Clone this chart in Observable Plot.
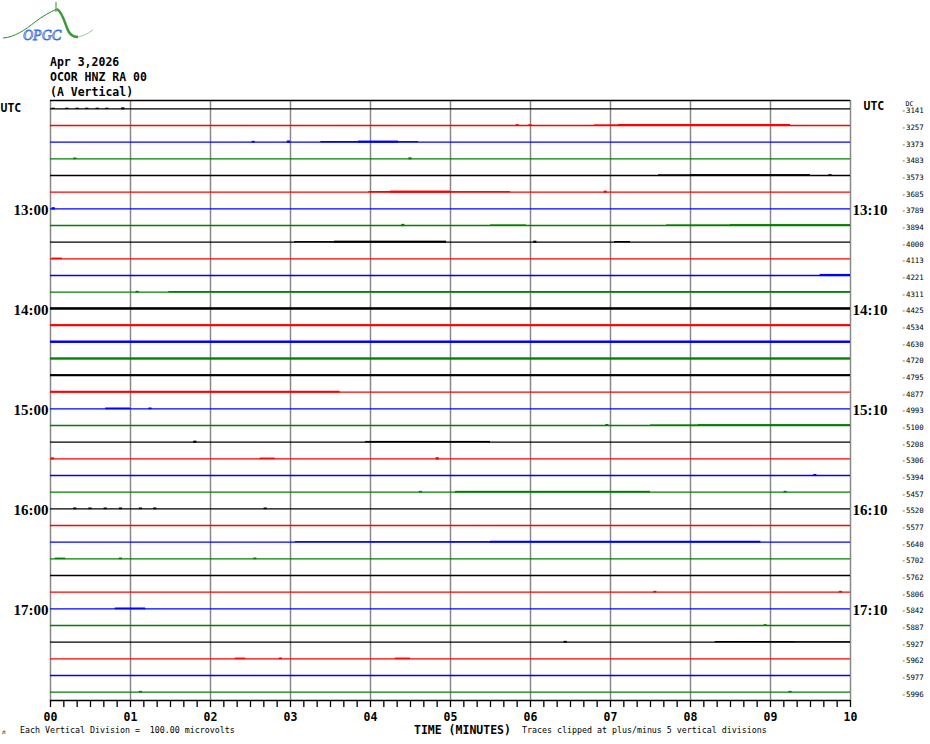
<!DOCTYPE html>
<html><head><meta charset="utf-8">
<script src="https://cdn.jsdelivr.net/npm/d3@7"></script>
<script src="https://cdn.jsdelivr.net/npm/@observablehq/plot@0.6"></script>
<style>
body{margin:0;background:#fff;}
#chart{position:relative;width:930px;height:744px;}
</style></head><body><div id="chart"></div>
<script>
// ---- data ----
const headerLines = ["Apr 3,2026", "OCOR HNZ RA 00", "(A Vertical)"];
const traceColors = ["#000000", "#ff0000", "#0000ff", "#008000"];
const dcValues = [-3141, -3257, -3373, -3483, -3573, -3685, -3789, -3894, -4000, -4113, -4221, -4311,
  -4425, -4534, -4630, -4720, -4795, -4877, -4993, -5100, -5208, -5306, -5394, -5457,
  -5520, -5577, -5640, -5702, -5762, -5806, -5842, -5887, -5927, -5962, -5977, -5996];
const hourRows = [6, 12, 18, 24, 30];
const leftHourLabels = ["13:00", "14:00", "15:00", "16:00", "17:00"];
const rightHourLabels = ["13:10", "14:10", "15:10", "16:10", "17:10"];
const minuteTicks = [0, 1, 2, 3, 4, 5, 6, 7, 8, 9, 10];
const minuteLabels = ["00", "01", "02", "03", "04", "05", "06", "07", "08", "09", "10"];
// noisy stretches: [row, start minute, end minute, half-amplitude in row units]
const bursts = [
  [1, 6.8, 7.1, 0.035], [1, 7.1, 9.25, 0.06],
  [2, 3.38, 3.85, 0.04], [2, 3.85, 4.35, 0.065], [2, 4.35, 4.6, 0.035],
  [4, 7.6, 8.0, 0.04], [4, 8.0, 9.5, 0.055],
  [5, 3.98, 4.25, 0.04], [5, 4.25, 5.0, 0.065], [5, 5.0, 5.75, 0.035],
  [7, 5.5, 5.95, 0.035], [7, 7.7, 8.5, 0.035], [7, 8.5, 10, 0.055],
  [8, 3.05, 3.55, 0.035], [8, 3.55, 4.95, 0.06], [8, 7.05, 7.25, 0.04],
  [9, 0.02, 0.15, 0.045],
  [10, 9.62, 10, 0.065],
  [11, 1.48, 10, 0.04],
  [12, 0, 10, 0.07], [13, 0, 10, 0.055], [14, 0, 10, 0.07], [15, 0, 10, 0.06], [16, 0, 10, 0.055],
  [17, 0, 3.62, 0.055],
  [18, 0.69, 1.0, 0.05],
  [19, 7.5, 8.1, 0.035], [19, 8.1, 10, 0.055],
  [20, 3.94, 5.5, 0.045],
  [21, 2.62, 2.81, 0.045],
  [23, 5.06, 7.5, 0.05],
  [26, 3.06, 5.5, 0.035], [26, 5.5, 8.88, 0.055],
  [27, 0.06, 0.19, 0.045],
  [30, 0.81, 1.19, 0.05],
  [32, 8.31, 9.3, 0.04], [32, 9.3, 10, 0.03],
  [33, 2.31, 2.44, 0.045], [33, 4.31, 4.5, 0.045]
];
// isolated spikes: [row, minute, half-amplitude in row units]
const spikes = [
  [0, 0.04, 0.04], [0, 0.21, 0.04], [0, 0.34, 0.04], [0, 0.46, 0.04], [0, 0.59, 0.04], [0, 0.71, 0.04], [0, 0.91, 0.06],
  [1, 5.84, 0.05], [1, 6.0, 0.05],
  [2, 2.54, 0.05], [2, 2.98, 0.07],
  [3, 0.31, 0.05], [3, 4.5, 0.06],
  [4, 9.75, 0.05],
  [5, 6.94, 0.06],
  [6, 0.04, 0.07],
  [7, 4.41, 0.07],
  [8, 6.06, 0.06],
  [11, 1.09, 0.05],
  [18, 1.25, 0.05],
  [19, 6.96, 0.06],
  [20, 1.81, 0.06],
  [21, 0.03, 0.06], [21, 4.84, 0.07],
  [22, 9.56, 0.06],
  [23, 4.63, 0.05], [23, 9.19, 0.05],
  [24, 0.31, 0.05], [24, 0.5, 0.05], [24, 0.69, 0.05], [24, 0.88, 0.05], [24, 1.13, 0.05], [24, 1.31, 0.05], [24, 2.69, 0.05],
  [27, 0.88, 0.05], [27, 2.56, 0.05],
  [29, 7.56, 0.05], [29, 9.88, 0.05],
  [31, 8.94, 0.05],
  [32, 6.44, 0.05],
  [33, 2.88, 0.05],
  [35, 1.13, 0.05], [35, 9.25, 0.05]
];
const captionLeft = "Each Vertical Division =  100.00 microvolts";
const captionMid = "TIME (MINUTES)";
const captionRight = "Traces clipped at plus/minus 5 vertical divisions";

// ---- derived tables ----
const rows = dcValues.map((dc, i) => ({row: i, color: traceColors[i % 4], dc}));
const burstData = bursts.map(([row, start, end, amp]) => ({row, start, end, amp, color: traceColors[row % 4]}));
const spikeData = spikes.map(([row, m, amp]) => ({row, m, amp, color: traceColors[row % 4]}));
const hours = hourRows.map((row, i) => ({row, left: leftHourLabels[i], right: rightHourLabels[i]}));
const minorTicks = d3.range(61).map(i => i / 6);

const mono = "DejaVu Sans Mono";
const plot = Plot.plot({
  width: 930, height: 744,
  marginTop: 100, marginBottom: 44, marginLeft: 50, marginRight: 80,
  x: {domain: [0, 10], axis: null},
  y: {domain: [-0.5, 35.5], reverse: true, axis: null},
  color: {type: "identity"},
  style: {fontFamily: mono, background: "white", color: "black"},
  marks: [
    Plot.ruleX(minuteTicks, {y1: -0.5, y2: 35.5, stroke: "#888888", strokeWidth: 1.5}),
    Plot.ruleY(rows, {y: "row", x1: 0, x2: 10, stroke: "color", strokeWidth: 1.3}),
    Plot.rect(burstData, {x1: "start", x2: "end", y1: d => d.row - d.amp, y2: d => d.row + d.amp, fill: "color"}),
    Plot.rect(spikeData, {x1: d => d.m - 0.02, x2: d => d.m + 0.02, y1: d => d.row - d.amp, y2: d => d.row + d.amp, fill: "color"}),
    Plot.ruleY([-0.5, 35.5], {x1: 0, x2: 10, stroke: "black", strokeWidth: 1.5}),
    Plot.axisX({ticks: minorTicks, tickSize: 7, tickFormat: () => "", strokeWidth: 1.3}),
    Plot.axisX({ticks: minuteTicks, tickSize: 0, tickPadding: 12, tickFormat: d => minuteLabels[d],
      fontWeight: "bold", fontSize: 11.5, fontFamily: mono}),
    Plot.text(hours, {x: 0, y: "row", text: "left", dx: -2, dy: 1, textAnchor: "end",
      fontFamily: "Liberation Serif", fontWeight: "bold", fontSize: 15, fill: "black"}),
    Plot.text(hours, {x: 10, y: "row", text: "right", dx: 2, dy: 1, textAnchor: "start",
      fontFamily: "Liberation Serif", fontWeight: "bold", fontSize: 15, fill: "black"}),
    Plot.text(["UTC"], {x: 0, y: 0, dx: -50, dy: -1, textAnchor: "start",
      fontFamily: mono, fontWeight: "bold", fontSize: 11.5, fill: "black"}),
    Plot.text(["UTC"], {x: 10, y: 0, dx: 13, dy: -3, textAnchor: "start",
      fontFamily: mono, fontWeight: "bold", fontSize: 11.5, fill: "black"}),
    Plot.text(rows, {x: 10, y: "row", text: d => String(d.dc), dx: 51, dy: 2, textAnchor: "start",
      fontFamily: mono, fontSize: 7.4, fill: "black"}),
    Plot.text(["DC"], {x: 10, y: 0, dx: 55, dy: -5, textAnchor: "start",
      fontFamily: mono, fontSize: 6.5, fill: "black"})
  ]
});
document.getElementById("chart").appendChild(plot);

const svg = d3.select(plot);
const addText = (x, y, t, size, weight) => svg.append("text")
  .attr("x", x).attr("y", y).attr("text-anchor", "start")
  .attr("font-family", mono).attr("font-size", size).attr("font-weight", weight || "normal")
  .attr("fill", "black").text(t);
// header
headerLines.forEach((t, i) => addText(50, 66 + i * 15, t, 11.5, "bold"));
// bottom captions
addText(20, 733, captionLeft, 8.3);
addText(414, 734, captionMid, 11.5, "bold");
addText(522, 733, captionRight, 8.3);
addText(2, 734, "л", 6);
// logo
const logo = svg.append("g");
logo.append("path").attr("d", "M3,38 C15,37 25,30 35,22 C43,16 50,12 57,9")
  .attr("fill", "none").attr("stroke", "#2e8b2e").attr("stroke-width", 1);
logo.append("path").attr("d", "M56,2 L56,12").attr("stroke", "#2e8b2e").attr("stroke-width", 1);
logo.append("path").attr("d", "M57,9 C62,12 64,20 67,28 C69,34 72,37 78,37")
  .attr("fill", "none").attr("stroke", "#3a9a3a").attr("stroke-width", 2.5);
logo.append("path").attr("d", "M78,37 C84,36 88,33 93,30")
  .attr("fill", "none").attr("stroke", "#9ccc9c").attr("stroke-width", 1);
logo.append("text").attr("x", 23).attr("y", 40).attr("text-anchor", "start").attr("font-family", "Liberation Serif")
  .attr("font-style", "italic").attr("font-size", 14).attr("fill", "none")
  .attr("stroke", "#2f6fd6").attr("stroke-width", 0.8).text("OPGC");
</script>
</body></html>
